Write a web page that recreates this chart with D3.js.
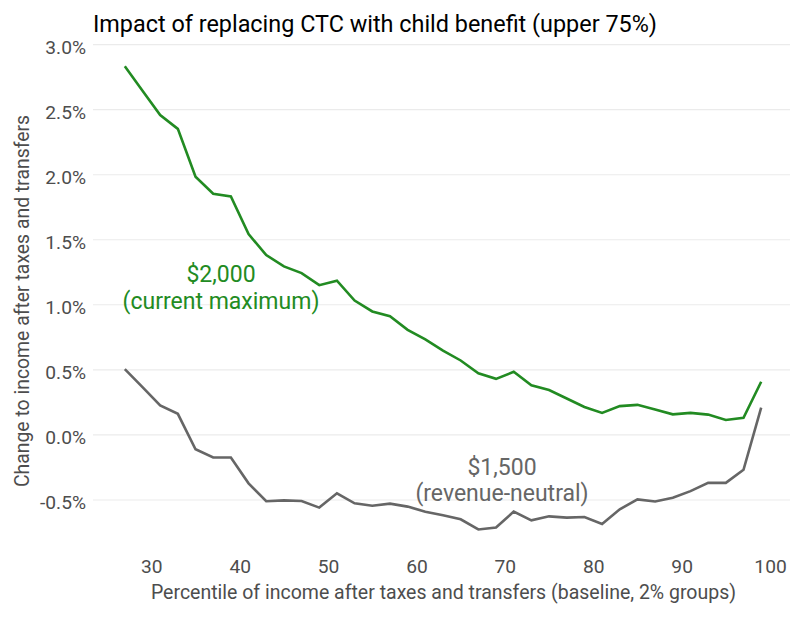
<!DOCTYPE html>
<html>
<head>
<meta charset="utf-8">
<script src="https://cdn.jsdelivr.net/npm/d3@7"></script>
<style>
  body { margin: 0; background: #fff; }
  svg text { font-family: Roboto, "Noto Sans", sans-serif; }
</style>
</head>
<body>
<script>
// percentile groups (2% groups, midpoints)
const percentiles = [27, 29, 31, 33, 35, 37, 39, 41, 43, 45, 47, 49, 51, 53, 55, 57, 59, 61, 63,
  65, 67, 69, 71, 73, 75, 77, 79, 81, 83, 85, 87, 89, 91, 93, 95, 97, 99];

// $2,000 child benefit (current maximum), % change
const cb2000 = [2.833, 2.646, 2.459, 2.352, 1.985, 1.854, 1.833, 1.544, 1.382, 1.295, 1.244, 1.151,
  1.185, 1.033, 0.949, 0.913, 0.808, 0.735, 0.648, 0.572, 0.474, 0.431, 0.485, 0.381, 0.345,
  0.28, 0.215, 0.169, 0.221, 0.231, 0.195, 0.158, 0.169, 0.156, 0.115, 0.131, 0.409];

// $1,500 child benefit (revenue-neutral), % change
const cb1500 = [0.505, 0.367, 0.226, 0.162, -0.11, -0.174, -0.174, -0.372, -0.51, -0.503, -0.508,
  -0.559, -0.449, -0.526, -0.544, -0.528, -0.551, -0.59, -0.618, -0.649, -0.727, -0.712, -0.589,
  -0.657, -0.626, -0.636, -0.631, -0.685, -0.572, -0.496, -0.512, -0.483, -0.432, -0.369,
  -0.369, -0.268, 0.21];

const xTicks = [30, 40, 50, 60, 70, 80, 90, 100];
const yTicks = [-0.5, 0, 0.5, 1, 1.5, 2, 2.5, 3];

const W = 800, H = 617;
const mLeft = 93, mRight = 793, mTop = 42, mBottom = 552;

const svg = d3.select("body").append("svg")
  .attr("width", W)
  .attr("height", H);

const x = d3.scaleLinear()
  .domain([23.4, 102.6])
  .range([mLeft, mRight]);

const y = d3.scaleLinear()
  .domain([-0.9, 3.02])
  .range([mBottom, mTop]);

// gridlines
svg.append("g")
  .selectAll("line")
  .data(yTicks)
  .join("line")
  .attr("x1", mLeft)
  .attr("x2", mRight - 3)
  .attr("y1", d => y(d))
  .attr("y2", d => y(d))
  .attr("stroke", "#ebebeb")
  .attr("stroke-width", 1.1);

// y axis labels (plain hyphen for negatives, like the original)
const yAxis = svg.append("g")
  .attr("transform", `translate(${mLeft - 7},2)`)
  .call(d3.axisLeft(y).tickValues(yTicks).tickSize(0).tickPadding(0)
    .tickFormat(d => d.toFixed(1) + "%"));
yAxis.select(".domain").remove();
yAxis.selectAll("text")
  .attr("font-size", 19.2)
  .attr("fill", "#4d4d4d")
  .attr("dy", "0.35em");

// x axis labels
const xAxis = svg.append("g")
  .attr("transform", `translate(0,559)`)
  .call(d3.axisBottom(x).tickValues(xTicks).tickSize(0).tickPadding(0));
xAxis.select(".domain").remove();
xAxis.selectAll("text")
  .attr("font-size", 19.2)
  .attr("fill", "#4d4d4d")
  .attr("dy", "0.71em");

// lines
const line = d3.line()
  .x((d, i) => x(percentiles[i]))
  .y(d => y(d));

svg.append("path")
  .datum(cb1500)
  .attr("d", line)
  .attr("fill", "none")
  .attr("stroke", "#666666")
  .attr("stroke-width", 2.6);

svg.append("path")
  .datum(cb2000)
  .attr("d", line)
  .attr("fill", "none")
  .attr("stroke", "#228b22")
  .attr("stroke-width", 2.6);

// annotations
const note = (lines, cx, y0, color) => {
  svg.append("text")
    .attr("x", cx)
    .attr("y", y0)
    .attr("text-anchor", "middle")
    .attr("font-size", 23)
    .attr("fill", color)
    .selectAll("tspan")
    .data(lines)
    .join("tspan")
    .attr("x", cx)
    .attr("dy", (d, i) => i === 0 ? 0 : 26.6)
    .text(d => d);
};
note(["$2,000", "(current maximum)"], 221, 282, "#228b22");
note(["$1,500", "(revenue-neutral)"], 502, 474.5, "#666666");

// titles
svg.append("text")
  .attr("x", mLeft)
  .attr("y", 32)
  .attr("font-size", 23.4)
  .attr("fill", "#000")
  .text("Impact of replacing CTC with child benefit (upper 75%)");

svg.append("text")
  .attr("x", 443.5)
  .attr("y", 599)
  .attr("text-anchor", "middle")
  .attr("font-size", 19.5)
  .attr("fill", "#4d4d4d")
  .text("Percentile of income after taxes and transfers (baseline, 2% groups)");

svg.append("text")
  .attr("transform", `translate(29,301) rotate(-90)`)
  .attr("text-anchor", "middle")
  .attr("font-size", 19.4)
  .attr("fill", "#4d4d4d")
  .text("Change to income after taxes and transfers");
</script>
</body>
</html>
